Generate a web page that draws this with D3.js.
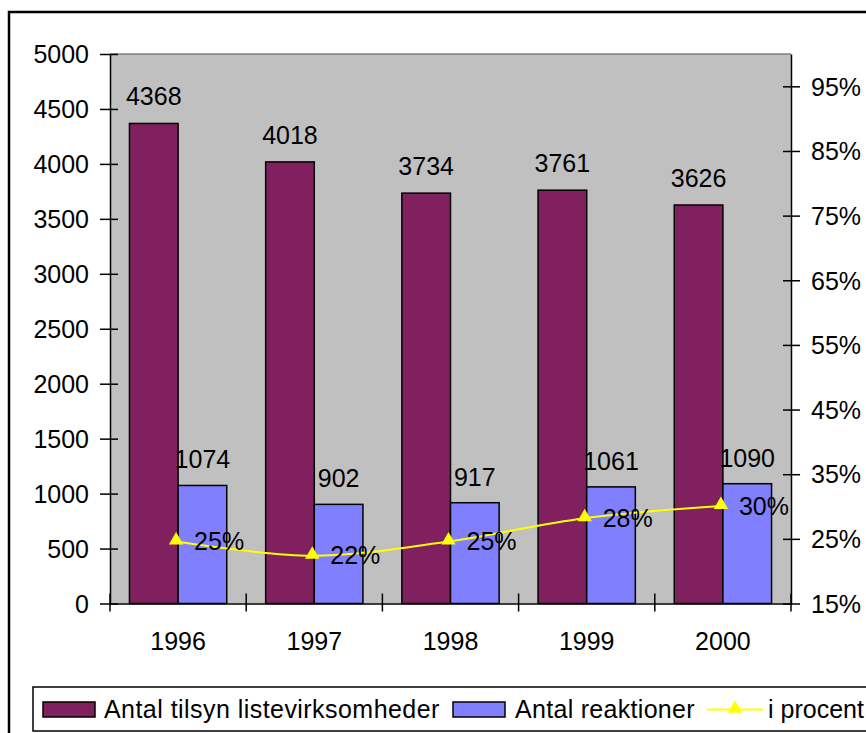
<!DOCTYPE html>
<html>
<head>
<meta charset="utf-8">
<script src="https://cdn.jsdelivr.net/npm/d3@7"></script>
<style>
  html, body { margin: 0; padding: 0; background: #fff; }
  svg { display: block; font-family: "Liberation Sans", Arial, sans-serif; }
</style>
</head>
<body>
<svg id="chart" width="866" height="733"></svg>
<script>
const years = ["1996", "1997", "1998", "1999", "2000"];
const tilsyn = [4368, 4018, 3734, 3761, 3626];
const reaktioner = [1074, 902, 917, 1061, 1090];
const procent = [0.246, 0.224, 0.246, 0.282, 0.301];
const procentLabels = ["25%", "22%", "25%", "28%", "30%"];
const leftTicks = [0, 500, 1000, 1500, 2000, 2500, 3000, 3500, 4000, 4500, 5000];
const rightTicks = [0.15, 0.25, 0.35, 0.45, 0.55, 0.65, 0.75, 0.85, 0.95];
const seriesNames = ["Antal tilsyn listevirksomheder", "Antal reaktioner", "i procent"];

const colPurple = "#80205F", colBlue = "#8080FF", colYellow = "#FFFF00", colGray = "#C0C0C0";
const FS = 25;

const svg = d3.select("#chart");
const L = 110, R = 791, T = 54, B = 603.5;

// outer border (extends beyond visible area)
svg.append("rect").attr("x", 9).attr("y", 12).attr("width", 900).attr("height", 780)
  .attr("fill", "#fff").attr("stroke", "#000").attr("stroke-width", 2.5);

const x = d3.scaleBand().domain(years).range([L, R]).paddingInner(0).paddingOuter(0);
const y = d3.scaleLinear().domain([0, 5000]).range([B, T]);
const y2 = d3.scaleLinear().domain([0.15, 1.0]).range([B, T]);

// plot area
svg.append("rect").attr("x", L).attr("y", T).attr("width", R - L).attr("height", B - T)
  .attr("fill", colGray);
svg.append("line").attr("x1", L).attr("x2", R).attr("y1", T).attr("y2", T)
  .attr("stroke", "#808080").attr("stroke-width", 1.5);

const bw = x.bandwidth() / 2.8;
const gOff = (x.bandwidth() - 2 * bw) / 2;

const g = svg.append("g");
g.selectAll("rect.p").data(years).join("rect").attr("class", "p")
  .attr("x", d => x(d) + gOff).attr("width", bw)
  .attr("y", (d, i) => y(tilsyn[i])).attr("height", (d, i) => B - y(tilsyn[i]))
  .attr("fill", colPurple).attr("stroke", "#000").attr("stroke-width", 1.5);
g.selectAll("rect.b").data(years).join("rect").attr("class", "b")
  .attr("x", d => x(d) + gOff + bw).attr("width", bw)
  .attr("y", (d, i) => y(reaktioner[i])).attr("height", (d, i) => B - y(reaktioner[i]))
  .attr("fill", colBlue).attr("stroke", "#000").attr("stroke-width", 1.5);

// bar labels
g.selectAll("text.pl").data(years).join("text").attr("class", "pl")
  .attr("x", d => x(d) + gOff + bw / 2).attr("y", (d, i) => y(tilsyn[i]) - 18)
  .attr("text-anchor", "middle").attr("font-size", FS).text((d, i) => tilsyn[i]);
g.selectAll("text.bl").data(years).join("text").attr("class", "bl")
  .attr("x", d => x(d) + gOff + bw * 1.5).attr("y", (d, i) => y(reaktioner[i]) - 17)
  .attr("text-anchor", "middle").attr("font-size", FS).text((d, i) => reaktioner[i]);

// axes
const leftAxis = d3.axisLeft(y).tickValues(leftTicks).tickSize(0).tickFormat(d3.format("d"));
const la = svg.append("g").attr("transform", `translate(${L},0)`).call(leftAxis);
la.select(".domain").attr("stroke", "#000").attr("stroke-width", 1.5);
la.selectAll(".tick text").attr("font-size", FS).attr("fill", "#000").attr("x", -21).attr("dy", "0.35em")
  .attr("font-family", "Liberation Sans, Arial, sans-serif");
la.selectAll(".tick").append("line").attr("x1", -10).attr("x2", 8).attr("stroke", "#000").attr("stroke-width", 1.5);

const rightAxis = d3.axisRight(y2).tickValues(rightTicks).tickSize(0).tickFormat(d3.format(".0%"));
const ra = svg.append("g").attr("transform", `translate(${R},0)`).call(rightAxis);
ra.select(".domain").attr("stroke", "#000").attr("stroke-width", 1.5);
ra.selectAll(".tick text").attr("font-size", FS).attr("fill", "#000").attr("x", 20).attr("dy", "0.35em")
  .attr("font-family", "Liberation Sans, Arial, sans-serif");
ra.selectAll(".tick").append("line").attr("x1", -8).attr("x2", 9).attr("stroke", "#000").attr("stroke-width", 1.5);

// category axis
const bottomAxis = d3.axisBottom(x).tickSize(0);
const ba = svg.append("g").attr("transform", `translate(0,${B})`).call(bottomAxis);
ba.select(".domain").attr("stroke", "#000").attr("stroke-width", 1.5);
ba.selectAll(".tick text").attr("font-size", FS).attr("fill", "#000").attr("y", 29).attr("dy", "0.71em")
  .attr("font-family", "Liberation Sans, Arial, sans-serif");
const bounds = years.map(d => x(d)).concat([x(years[years.length - 1]) + x.bandwidth()]);
ba.selectAll("line.sep").data(bounds).join("line").attr("class", "sep")
  .attr("x1", d => d).attr("x2", d => d).attr("y1", -10).attr("y2", 8)
  .attr("stroke", "#000").attr("stroke-width", 1.5);

// line series
const cx = d => x(d) + x.bandwidth() / 2 - 2;
const line = d3.line().x((d, i) => cx(years[i])).y(d => y2(d)).curve(d3.curveCatmullRom.alpha(0.5));
svg.append("path").datum(procent).attr("d", line).attr("fill", "none")
  .attr("stroke", colYellow).attr("stroke-width", 2);
const tri = d3.symbol().type(d3.symbolTriangle).size(90);
svg.selectAll("path.m").data(procent).join("path").attr("class", "m")
  .attr("d", tri).attr("transform", (d, i) => `translate(${cx(years[i])},${y2(d) - 1})`)
  .attr("fill", colYellow);
svg.selectAll("text.ml").data(procent).join("text").attr("class", "ml")
  .attr("x", (d, i) => cx(years[i]) + 18).attr("y", d => y2(d)).attr("dy", "0.35em")
  .attr("font-size", FS).text((d, i) => procentLabels[i]);

// legend
const lg = svg.append("g");
lg.append("rect").attr("x", 33).attr("y", 687).attr("width", 900).attr("height", 44)
  .attr("fill", "#fff").attr("stroke", "#000").attr("stroke-width", 1.5);
const ly = 709.5;
lg.append("rect").attr("x", 43).attr("y", 702).attr("width", 52).attr("height", 15)
  .attr("fill", colPurple).attr("stroke", "#000").attr("stroke-width", 1.5);
lg.append("text").attr("x", 104).attr("y", ly).attr("dy", "0.35em").attr("font-size", FS)
  .attr("letter-spacing", 0.45).text(seriesNames[0]);
lg.append("rect").attr("x", 453).attr("y", 702).attr("width", 52).attr("height", 15)
  .attr("fill", colBlue).attr("stroke", "#000").attr("stroke-width", 1.5);
lg.append("text").attr("x", 515).attr("y", ly).attr("dy", "0.35em").attr("font-size", FS)
  .attr("letter-spacing", 0.3).text(seriesNames[1]);
lg.append("line").attr("x1", 707).attr("x2", 763).attr("y1", ly).attr("y2", ly)
  .attr("stroke", colYellow).attr("stroke-width", 2);
lg.append("path").attr("d", tri).attr("transform", `translate(735,${ly - 1})`).attr("fill", colYellow);
lg.append("text").attr("x", 768).attr("y", ly).attr("dy", "0.35em").attr("font-size", FS).text(seriesNames[2]);
</script>
</body>
</html>
